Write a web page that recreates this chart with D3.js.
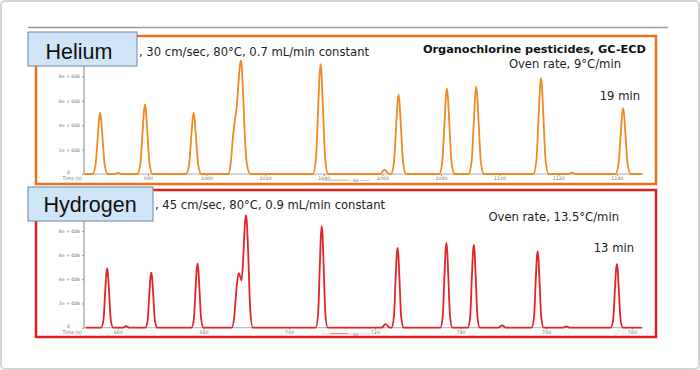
<!DOCTYPE html>
<html>
<head>
<meta charset="utf-8">
<script src="https://cdn.jsdelivr.net/npm/d3@7"></script>
<style>
  body { margin: 0; background: #fff; }
  svg { display: block; font-family: "DejaVu Sans", Verdana, sans-serif; }
</style>
</head>
<body>
<div id="chart"></div>
<script>
const width = 700;
const height = 370;

// Helium trace, [time (s), signal (x1e6)]
const heliumTrace = [
  [958.5, 0], [961.1, 0], [962.1, 0.68], [962.9, 3.05], [963.4, 4.6], [963.7, 5.0], [964.0, 4.6], [964.5, 3.05], [965.3, 0.68], [966.3, 0],
  [968.6, 0], [969.8, 0.1], [971.0, 0],
  [976.4, 0], [977.4, 0.77], [978.2, 3.48], [978.7, 5.24], [979.0, 5.7], [979.3, 5.24], [979.8, 3.48], [980.6, 0.77], [981.6, 0],
  [993.0, 0], [994.0, 0.68], [994.8, 3.05], [995.3, 4.6], [995.6, 5.0], [995.9, 4.6], [996.4, 3.05], [997.2, 0.68], [998.2, 0],
  [1007.5, 0], [1008.3, 1.0], [1009.0, 3.0], [1009.6, 4.3], [1010.3, 5.5], [1011.0, 7.8], [1011.5, 9.1], [1011.7, 9.3], [1012.0, 8.9], [1012.5, 6.5], [1013.2, 2.5], [1014.0, 0.5], [1015.0, 0],
  [1036.3, 0], [1037.3, 1.2], [1038.1, 5.5], [1038.6, 8.3], [1038.9, 9.0], [1039.2, 8.3], [1039.7, 5.5], [1040.5, 1.2], [1041.5, 0],
  [1059.3, 0], [1060.7, 0.35], [1062.0, 0.05],
  [1062.9, 0], [1063.9, 0.88], [1064.7, 3.97], [1065.2, 5.98], [1065.5, 6.5], [1065.8, 5.98], [1066.3, 3.97], [1067.1, 0.88], [1068.1, 0],
  [1079.4, 0], [1080.4, 0.95], [1081.2, 4.27], [1081.7, 6.44], [1082.0, 7.0], [1082.3, 6.44], [1082.8, 4.27], [1083.6, 0.95], [1084.6, 0],
  [1089.4, 0], [1090.4, 0.97], [1091.2, 4.36], [1091.7, 6.58], [1092.0, 7.15], [1092.3, 6.58], [1092.8, 4.36], [1093.6, 0.97], [1094.6, 0],
  [1111.5, 0], [1112.5, 1.06], [1113.3, 4.79], [1113.8, 7.22], [1114.1, 7.85], [1114.4, 7.22], [1114.9, 4.79], [1115.7, 1.06], [1116.7, 0],
  [1123.5, 0], [1124.7, 0.12], [1125.9, 0],
  [1139.5, 0], [1140.5, 0.73], [1141.3, 3.29], [1141.8, 4.97], [1142.1, 5.4], [1142.4, 4.97], [1142.9, 3.29], [1143.7, 0.73], [1144.7, 0],
  [1148.5, 0]
];

// Hydrogen trace, [time (s), signal (x1e6)]
const hydrogenTrace = [
  [652.5, 0], [656.1, 0], [656.65, 0.66], [657.05, 3.0], [657.32, 4.5], [657.5, 4.9], [657.68, 4.5], [657.95, 3.0], [658.35, 0.66], [658.9, 0],
  [661.0, 0], [661.9, 0.12], [662.8, 0],
  [666.4, 0], [666.95, 0.61], [667.35, 2.78], [667.62, 4.19], [667.8, 4.55], [667.98, 4.19], [668.25, 2.78], [668.65, 0.61], [669.2, 0],
  [677.2, 0], [677.75, 0.72], [678.15, 3.23], [678.42, 4.88], [678.6, 5.3], [678.78, 4.88], [679.05, 3.23], [679.45, 0.72], [680.0, 0],
  [686.6, 0], [687.2, 1.0], [687.7, 3.2], [688.2, 4.5], [688.6, 4.2], [688.9, 3.9], [689.3, 6.0], [689.7, 8.8], [689.9, 9.3], [690.1, 8.8], [690.5, 5.5], [690.9, 1.5], [691.5, 0],
  [706.2, 0], [706.75, 1.13], [707.15, 5.12], [707.42, 7.73], [707.6, 8.4], [707.78, 7.73], [708.05, 5.12], [708.45, 1.13], [709.0, 0],
  [721.6, 0], [722.5, 0.3], [723.4, 0.02],
  [723.9, 0], [724.45, 0.89], [724.85, 4.03], [725.12, 6.07], [725.3, 6.6], [725.48, 6.07], [725.75, 4.03], [726.15, 0.89], [726.7, 0],
  [735.3, 0], [735.85, 0.95], [736.25, 4.27], [736.52, 6.44], [736.7, 7.0], [736.88, 6.44], [737.15, 4.27], [737.55, 0.95], [738.1, 0],
  [741.7, 0], [742.25, 0.92], [742.65, 4.18], [742.92, 6.3], [743.1, 6.85], [743.28, 6.3], [743.55, 4.18], [743.95, 0.92], [744.5, 0],
  [748.8, 0], [749.7, 0.2], [750.6, 0],
  [756.6, 0], [757.15, 0.85], [757.55, 3.84], [757.82, 5.8], [758.0, 6.3], [758.18, 5.8], [758.45, 3.84], [758.85, 0.85], [759.4, 0],
  [763.8, 0], [764.7, 0.1], [765.6, 0],
  [775.1, 0], [775.65, 0.71], [776.05, 3.2], [776.32, 4.83], [776.5, 5.25], [776.68, 4.83], [776.95, 3.2], [777.35, 0.71], [777.9, 0],
  [782.3, 0]
];

const heliumTicks = [980, 1000, 1020, 1040, 1060, 1080, 1100, 1120, 1140];
const hydrogenTicks = [660, 680, 700, 720, 740, 760, 780];
const yTicks = [0, 2, 4, 6, 8];
const yTickLabels = ["0", "2e + 006", "4e + 006", "6e + 006", "8e + 006"];

const panels = [
  {
    name: "Helium", trace: heliumTrace, xTicks: heliumTicks,
    xDomain: [958.2, 1148.9], yDomain: [0, 8.85],
    frame: [36, 36, 656, 184], frameColor: "#e8711c", lineColor: "#f08a24",
    plotTop: 66, plotBottom: 174,
    label: [28, 32, 109, 34], labelX: 79, labelY: 59,
    sub: ", 30 cm/sec, 80\u00b0C, 0.7 mL/min constant", subX: 139, subY: 56,
    rate: "Oven rate, 9\u00b0C/min", rateY: 68, rateX: 621,
    time: "19 min", timeY: 100, timeX: 640,
    legendY: 180.5
  },
  {
    name: "Hydrogen", trace: hydrogenTrace, xTicks: hydrogenTicks,
    xDomain: [652.1, 782.6], yDomain: [0, 8.9],
    frame: [36, 190, 656, 337], frameColor: "#e21f1f", lineColor: "#e3242a",
    plotTop: 220, plotBottom: 327.7,
    label: [28, 187, 125, 34], labelX: 90, labelY: 212,
    sub: ", 45 cm/sec, 80\u00b0C, 0.9 mL/min constant", subX: 155, subY: 209,
    rate: "Oven rate, 13.5\u00b0C/min", rateY: 221, rateX: 619,
    time: "13 min", timeY: 252, timeX: 634,
    legendY: 334
  }
];

const svg = d3.select("#chart").append("svg")
    .attr("width", width).attr("height", height);

// outer frame and top rule
svg.append("rect")
    .attr("x", 1).attr("y", 1).attr("width", width - 2).attr("height", height - 2)
    .attr("rx", 4).attr("fill", "#fff").attr("stroke", "#d4d4d4").attr("stroke-width", 2);
svg.append("line")
    .attr("x1", 28).attr("x2", 668).attr("y1", 27.5).attr("y2", 27.5)
    .attr("stroke", "#9a9a9a").attr("stroke-width", 1.5);

const axisLeft = 84;
const axisRight = 643;

panels.forEach(p => {
  const g = svg.append("g");

  g.append("rect")
      .attr("x", p.frame[0]).attr("y", p.frame[1])
      .attr("width", p.frame[2] - p.frame[0]).attr("height", p.frame[3] - p.frame[1])
      .attr("fill", "#fff").attr("stroke", p.frameColor).attr("stroke-width", 2.5);

  const x = d3.scaleLinear().domain(p.xDomain).range([axisLeft, axisRight]);
  const y = d3.scaleLinear().domain(p.yDomain).range([p.plotBottom, p.plotTop]);

  // y axis
  const yAxis = g.append("g")
      .attr("transform", `translate(${axisLeft},0)`)
      .call(d3.axisLeft(y).tickValues(yTicks).tickSize(2).tickPadding(2)
        .tickFormat((d, i) => yTickLabels[i]));
  yAxis.select(".domain").attr("stroke", "#8a8a8a").attr("d", `M0,${p.plotBottom}V${p.plotTop}`);
  yAxis.selectAll(".tick line").attr("stroke", "#999");
  yAxis.selectAll(".tick text").attr("fill", "#777").style("font-size", "4.6px")
      .style("font-family", "Verdana, 'DejaVu Sans', sans-serif");
  yAxis.selectAll(".tick").filter(d => d === 0).select("text")
      .attr("dy", "-0.1em").attr("x", -14);

  // x axis
  const xAxis = g.append("g")
      .attr("transform", `translate(0,${p.plotBottom})`)
      .call(d3.axisBottom(x).tickValues(p.xTicks).tickSize(2).tickPadding(1).tickFormat(d3.format("d")));
  xAxis.select(".domain").attr("stroke", "#b0b0b0").attr("d", `M${axisLeft},0H${axisRight}`);
  xAxis.selectAll(".tick line").attr("stroke", "#999");
  xAxis.selectAll(".tick text").attr("fill", "#777").style("font-size", "4.8px")
      .style("font-family", "Verdana, 'DejaVu Sans', sans-serif");

  g.append("text")
      .attr("x", axisLeft - 2).attr("y", p.plotBottom + 6)
      .attr("text-anchor", "end").attr("fill", "#777")
      .style("font-size", "4.8px").text("Time (s)");

  // small legend mark
  g.append("line")
      .attr("x1", 322).attr("x2", 370).attr("y1", p.legendY).attr("y2", p.legendY)
      .attr("stroke", "#d8d8d8").attr("stroke-width", 1);
  g.append("line")
      .attr("x1", 330).attr("x2", 348).attr("y1", p.legendY - 0.5).attr("y2", p.legendY - 0.5)
      .attr("stroke", p.lineColor).attr("stroke-opacity", 0.5).attr("stroke-width", 1);
  g.append("text")
      .attr("x", 353).attr("y", p.legendY + 1.5).attr("fill", "#777")
      .style("font-size", "4.5px").text("S1");

  // trace
  const line = d3.line()
      .x(d => x(d[0]))
      .y(d => y(d[1]))
      .curve(d3.curveMonotoneX);
  g.append("path")
      .datum(p.trace)
      .attr("fill", "none")
      .attr("stroke", p.lineColor)
      .attr("stroke-width", 1.8)
      .attr("stroke-linejoin", "round")
      .attr("d", line);

  // texts
  g.append("text")
      .attr("x", p.subX).attr("y", p.subY)
      .attr("fill", "#222").style("font-size", "11.6px")
      .text(p.sub);
  g.append("text")
      .attr("x", p.rateX).attr("y", p.rateY).attr("text-anchor", "end")
      .attr("fill", "#222").style("font-size", "11.6px")
      .text(p.rate);
  g.append("text")
      .attr("x", p.timeX).attr("y", p.timeY).attr("text-anchor", "end")
      .attr("fill", "#222").style("font-size", "11.6px")
      .text(p.time);

  // label box
  g.append("rect")
      .attr("x", p.label[0]).attr("y", p.label[1])
      .attr("width", p.label[2]).attr("height", p.label[3])
      .attr("fill", "#cfe5f8").attr("stroke", "#6f86a6").attr("stroke-width", 1);
  g.append("text")
      .attr("x", p.labelX).attr("y", p.labelY).attr("text-anchor", "middle")
      .attr("fill", "#111").style("font-size", "21.5px")
      .style("font-family", "'Liberation Sans', Arial, sans-serif")
      .text(p.name);
});

svg.append("text")
    .attr("x", 646).attr("y", 53).attr("text-anchor", "end")
    .attr("fill", "#111").style("font-size", "11.3px").style("font-weight", "bold")
    .text("Organochlorine pesticides, GC-ECD");
</script>
</body>
</html>
